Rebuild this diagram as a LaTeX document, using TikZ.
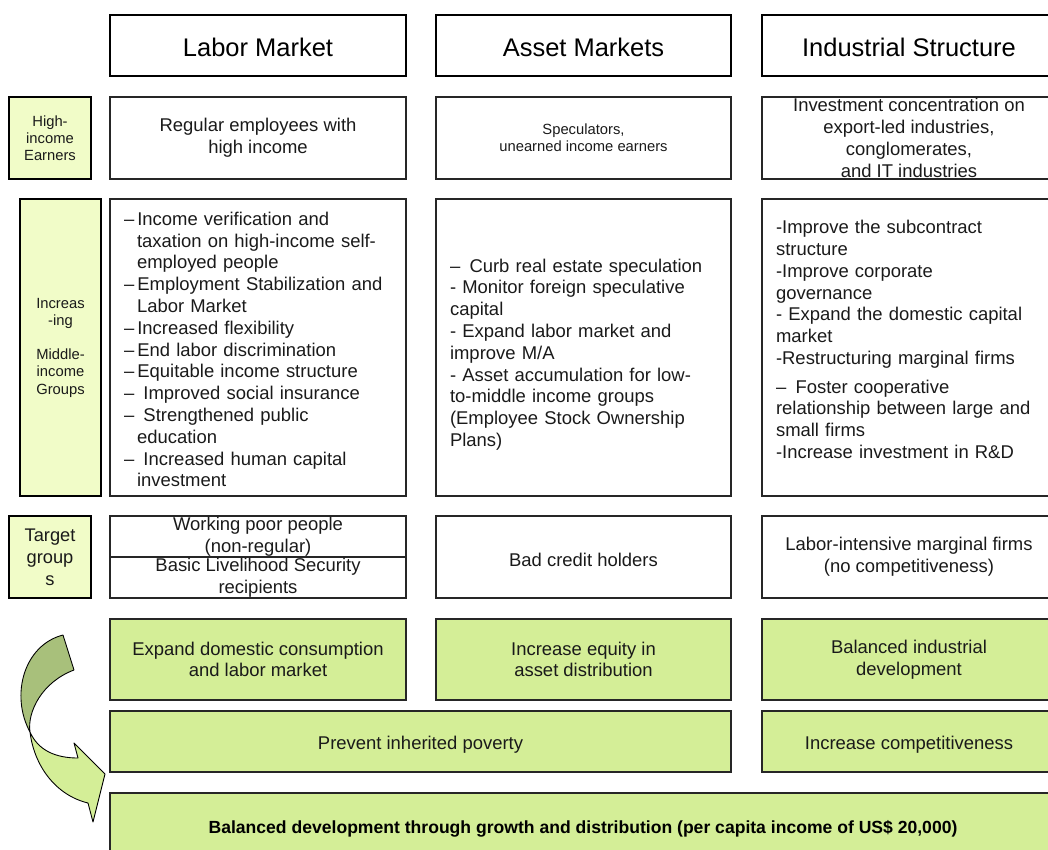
\documentclass[tikz,border=0pt]{standalone}
\usepackage{fontspec}
\setmainfont{Liberation Sans}
\usepackage{xcolor}
\definecolor{cLine}{HTML}{262626}
\definecolor{cText}{HTML}{1A1A1A}
\definecolor{cGreen}{HTML}{D4EE97}
\definecolor{cLabel}{HTML}{F1FCC8}
\definecolor{cArrowDark}{HTML}{A8C07B}
\usepackage{tikz}
\tikzset{
  cell/.style={draw=cLine,line width=0.8pt,inner sep=0pt,align=center,
    text=cText,font=\fontsize{10.5}{12.4}\selectfont,
    execute at begin node={\rule{0pt}{10.8pt}}},
  cell-head/.style={cell,draw=black,line width=1.3pt,text=black,
    font=\fontsize{14.5}{16}\selectfont,
    execute at begin node={\rule{0pt}{12.5pt}}},
  cell-label/.style={cell,draw=black,fill=cLabel,line width=1pt,
    font=\fontsize{8.4}{9.8}\selectfont,
    execute at begin node={\rule{0pt}{7.5pt}}},
  cell-small/.style={font=\fontsize{8.4}{9.8}\selectfont,
    execute at begin node={\rule{0pt}{7.5pt}}},
  cell-goal/.style={cell,fill=cGreen},
  list-text/.style={inner sep=0pt,align=left,text=cText,
    font=\fontsize{10.5}{12.4}\selectfont},
  % column sizes
  col-labor/.style={minimum width=5.92cm},
  col-asset/.style={minimum width=5.90cm},
  col-ind/.style={minimum width=5.88cm},
  twisted-arrow/.style={draw=black,line width=0.5pt,line join=round},
}
% hanging indent for the wrapped list lines
\newcommand{\contline}{\hspace*{0.26cm}}

\begin{document}
\begin{tikzpicture}[x=0.02cm,y=-0.02cm]
  \useasboundingbox (0,0) rectangle (1048,849);

  % column heads
  \node[cell-head,col-labor,minimum height=1.22cm] (hLabor) at (258,45.5) {Labor Market};
  \node[cell-head,col-asset,minimum height=1.22cm] (hAsset) at (583.5,45.5) {Asset Markets};
  \node[cell-head,col-ind,minimum height=1.22cm] (hInd) at (909,45.5) {Industrial Structure};

  % row labels
  \node[cell-label,minimum width=1.64cm,minimum height=1.64cm] (lHigh) at (50,138)
    {High-\\income\\Earners};
  \node[cell-label,minimum width=1.62cm,minimum height=5.94cm] (lMid) at (60.5,347.5)
    {Increas\\-ing\\[9.8pt]Middle-\\income\\Groups};
  \node[cell-label,minimum width=1.64cm,minimum height=1.64cm,
    font=\fontsize{10.4}{12.5}\selectfont,
    execute at begin node={\rule{0pt}{9.5pt}}] (lTarget) at (50,557) {Target\\group\\s};

  % high-income earners
  \node[cell,col-labor,minimum height=1.64cm] (laborHigh) at (258,138)
    {Regular employees with\\high income};
  \node[cell,cell-small,col-asset,minimum height=1.64cm] (assetHigh) at (583.5,138)
    {Speculators,\\unearned income earners};
  \node[cell,col-ind,minimum height=1.64cm] (indHigh) at (909,138)
    {Investment concentration on\\export-led industries,\\conglomerates,\\and IT industries};

  % middle-income groups
  \node[cell,col-labor,minimum height=5.94cm] (laborMid) at (258,347.5) {};
  \node[cell,col-asset,minimum height=5.94cm] (assetMid) at (583.5,347.5) {};
  \node[cell,col-ind,minimum height=5.94cm] (indMid) at (909,347.5) {};

  \node[list-text,text width=5.36cm] (laborMidText) at (258,349.5) {%
    –\,Income verification and\\
    \contline taxation on high-income self-\\
    \contline employed people\\
    –\,Employment Stabilization and\\
    \contline Labor Market\\
    –\,Increased flexibility\\
    –\,End labor discrimination\\
    –\,Equitable income structure\\
    –\, Improved social insurance\\
    –\, Strengthened public\\
    \contline education\\
    –\, Increased human capital\\
    \contline investment};
  \node[list-text,text width=5.34cm] (assetMidText) at (583.5,354.5) {%
    –\enspace Curb real estate speculation\\
    - Monitor foreign speculative\\
    capital\\
    - Expand labor market and\\
    improve M/A\\
    - Asset accumulation for low-\\
    to-middle income groups\\
    (Employee Stock Ownership\\
    Plans)};
  \node[list-text,text width=5.32cm] (indMidText) at (909,339.5) {%
    -Improve the subcontract\\
    structure\\
    -Improve corporate\\
    governance\\
    - Expand the domestic capital\\
    market\\
    -Restructuring marginal firms\\[4pt]
    –\enspace Foster cooperative\\
    relationship between large and\\
    small firms\\
    -Increase investment in R\&D};

  % target groups
  \node[cell,col-labor,minimum height=0.82cm] (laborPoor) at (258,536.5)
    {Working poor people\\(non-regular)};
  \node[cell,col-labor,minimum height=0.82cm] (laborBasic) at (258,577.5)
    {Basic Livelihood Security\\recipients};
  \node[cell,col-asset,minimum height=1.64cm] (assetTarget) at (583.5,557)
    {Bad credit holders};
  \node[cell,col-ind,minimum height=1.64cm] (indTarget) at (909,557)
    {Labor-intensive marginal firms\\(no competitiveness)};

  % policy goals
  \node[cell-goal,col-labor,minimum height=1.62cm] (goalLabor) at (258,659.5)
    {Expand domestic consumption\\and labor market};
  \node[cell-goal,col-asset,minimum height=1.62cm] (goalAsset) at (583.5,659.5)
    {Increase equity in\\asset distribution};
  \node[cell-goal,col-ind,minimum height=1.62cm] (goalInd) at (909,659.5)
    {Balanced industrial\\development};
  \node[cell-goal,minimum width=12.42cm,minimum height=1.22cm] (goalPoverty) at (420.5,741.5)
    {Prevent inherited poverty};
  \node[cell-goal,col-ind,minimum height=1.22cm] (goalCompete) at (909,741.5)
    {Increase competitiveness};
  \node[cell-goal,minimum width=18.92cm,minimum height=1.32cm,
    font=\fontsize{10}{12}\selectfont\bfseries,text=black] (goalAll) at (583,826)
    {Balanced development through growth and distribution (per capita income of US\$ 20,000)};

  % twisted curved arrow on the left
  \filldraw[twisted-arrow,fill=cArrowDark] (63,635)
    .. controls (24,645) and (10,695) .. (30,732)
    .. controls (27,712) and (42,682) .. (74,670) -- cycle;
  \filldraw[twisted-arrow,fill=cGreen] (30,732)
    .. controls (34,765) and (55,795) .. (88,803)
    -- (93,822) -- (105,774) -- (74,743) -- (78,758)
    .. controls (55,758) and (38,750) .. (30,732) -- cycle;
\end{tikzpicture}
\end{document}
